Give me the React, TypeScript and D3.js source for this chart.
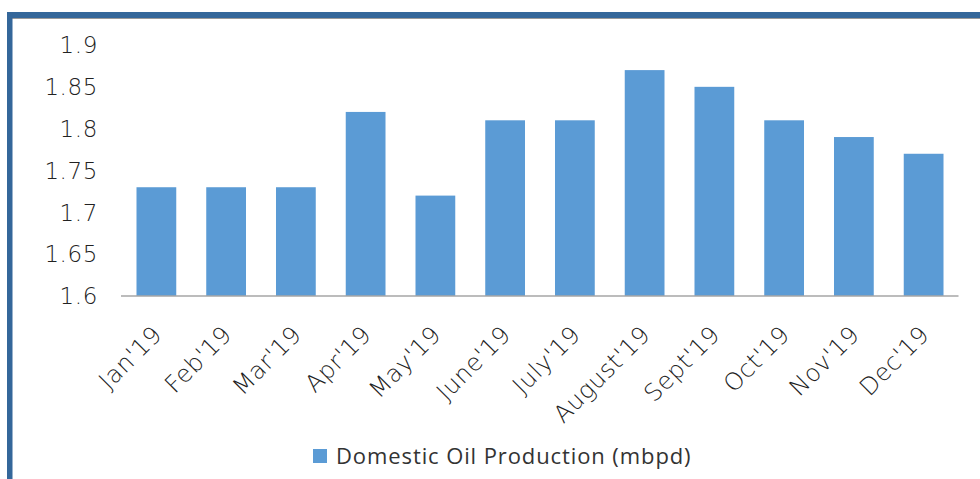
import React from "react";
import * as d3 from "d3";

const months = ["Jan'19", "Feb'19", "Mar'19", "Apr'19", "May'19", "June'19", "July'19", "August'19", "Sept'19", "Oct'19", "Nov'19", "Dec'19"];
const production = [1.73, 1.73, 1.73, 1.82, 1.72, 1.81, 1.81, 1.87, 1.85, 1.81, 1.79, 1.77];
const yTicks = [1.6, 1.65, 1.7, 1.75, 1.8, 1.85, 1.9];
const seriesName = "Domestic Oil Production (mbpd)";

export default function App() {
  const W = 980, H = 479;
  const x = d3.scaleBand().domain(months).range([121.5, 958.5]).paddingInner(0.43).paddingOuter(0.215);
  const y = d3.scaleLinear().domain([1.6, 1.9]).range([296, 45]);
  const fmt = (v: number) => String(+v.toFixed(2));
  const labelFont = "'DejaVu Sans', 'Open Sans', sans-serif";
  return (
    <svg width={W} height={H} style={{ position: "absolute", left: 0, top: 0, background: "#fff" }}>
      <rect x={0} y={0} width={W} height={H} fill="#fff" />
      {/* frame */}
      <rect x={7} y={12} width={W - 7} height={6} fill="#34679A" />
      <line x1={12} x2={W} y1={18.5} y2={18.5} stroke="#9a9a9a" strokeWidth={1} />
      <rect x={7} y={12} width={5.5} height={H - 12} fill="#34679A" />
      {/* bars */}
      {production.map((v, i) => (
        <rect key={months[i]} x={x(months[i])} y={y(v)} width={x.bandwidth()} height={y(1.6) - y(v)} fill="#5B9BD5" />
      ))}
      {/* axis */}
      <line x1={121} x2={958.5} y1={296} y2={296} stroke="#A6A6A6" strokeWidth={1.5} />
      {yTicks.map((t) => (
        <text key={t} x={98} y={y(t)} dy="0.36em" textAnchor="end" fontFamily={labelFont} fontWeight={200} fontSize={23} letterSpacing={0.6} fill="#222">
          {fmt(t)}
        </text>
      ))}
      {months.map((m) => {
        const cx = (x(m) as number) + x.bandwidth() / 2 + 7;
        const cy = 336;
        return (
          <text key={m} transform={`translate(${cx},${cy}) rotate(-45)`} textAnchor="end" fontFamily={labelFont} fontWeight={200} fontSize={24} letterSpacing={0.5} fill="#222">
            {m}
          </text>
        );
      })}
      {/* legend */}
      <rect x={313} y={449} width={14} height={14} fill="#5B9BD5" />
      <text x={336} y={456} dy="0.36em" fontFamily="'Open Sans', sans-serif" fontSize={22} letterSpacing={0.9} fill="#333">
        {seriesName}
      </text>
    </svg>
  );
}
